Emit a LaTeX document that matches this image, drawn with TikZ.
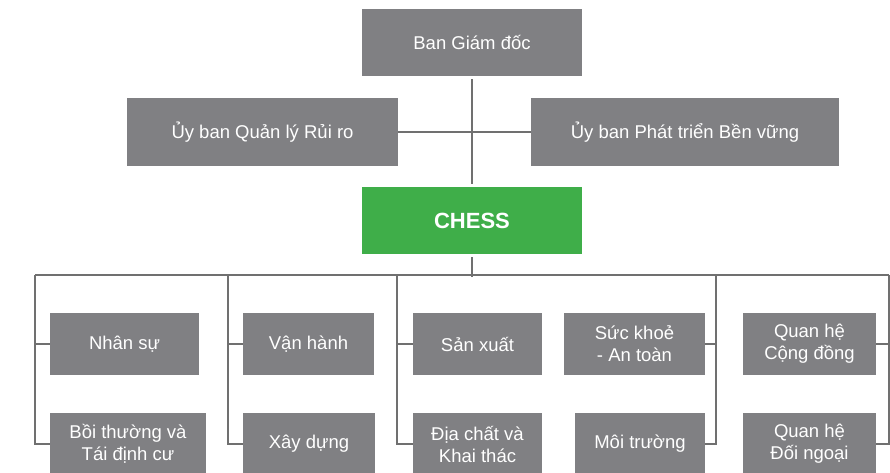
\documentclass[tikz,border=0pt]{standalone}
\usepackage{fontspec}
\setmainfont{Liberation Sans}
\usetikzlibrary{calc}

\definecolor{boxgray}{HTML}{808083}
\definecolor{chessgreen}{HTML}{3FAE49}
\definecolor{linegray}{HTML}{707070}

\begin{document}
\begin{tikzpicture}[
    x=1pt, y=-1pt,
    all/.style={inner sep=0pt, align=center, text=white,
        font=\fontsize{18.5}{22}\selectfont},
    box/.style={all, rectangle, fill=boxgray, minimum height=62pt},
    board/.style={all, rectangle, fill=boxgray, minimum height=67pt},
    core/.style={all, rectangle, fill=chessgreen, minimum width=220pt,
        minimum height=67pt, font=\fontsize{22}{26}\selectfont\bfseries},
    link/.style={draw=linegray, line width=1.6pt},
]
    \clip (0,0) rectangle (890,473);
    \useasboundingbox (0,0) rectangle (890,473);

    % board level
    \node [board, minimum width=220pt] (gd) at (472,42.5) {Ban Giám đốc};
    \node [board, minimum width=271pt] (rr) at (262.5,132) {Ủy ban Quản lý Rủi ro};
    \node [board, minimum width=308pt] (ptbv) at (685,132) {Ủy ban Phát triển Bền vững};
    \node [core] (chess) at (472,220.5) {CHESS};

    \draw [link, shorten <=3pt, shorten >=3pt] (gd) -- (chess);
    \draw [link] (rr) -- (ptbv);

    % departments
    \node [box, minimum width=149pt] (ns) at (124.5,344) {Nhân sự};
    \node [box, minimum width=156pt] (bt) at (128,444) {Bồi thường và\\Tái định cư};
    \node [box, minimum width=131pt] (vh) at (308.5,344) {Vận hành};
    \node [box, minimum width=132pt] (xd) at (309,444) {Xây dựng};
    \node [box, minimum width=129pt] (sx) at (477.5,344) {Sản xuất};
    \node [box, minimum width=129pt] (dc) at (477.5,444) {Địa chất và\\Khai thác};
    \node [box, minimum width=141pt] (sk) at (634.5,344) {Sức khoẻ\\- An toàn};
    \node [box, minimum width=130pt] (mt) at (640,444) {Môi trường};
    \node [box, minimum width=133pt] (qhcd) at (809.5,344) {Quan hệ\\Cộng đồng};
    \node [box, minimum width=133pt] (qhdn) at (809.5,444) {Quan hệ\\Đối ngoại};

    % bus
    \coordinate (c1) at (35,275);
    \coordinate (c2) at (228,275);
    \coordinate (c3) at (397,275);
    \coordinate (c4) at (716,275);
    \coordinate (c5) at (889,275);

    \draw [link, shorten <=3pt] (chess) -- ($(chess |- c1)+(0,2)$);
    \draw [link] (c1) -- (c5);

    \draw [link] (c1) |- (bt.west);
    \draw [link] (ns.west) -- (ns.west -| c1);
    \draw [link] (c2) |- (xd.west);
    \draw [link] (vh.west) -- (vh.west -| c2);
    \draw [link] (c3) |- (dc.west);
    \draw [link] (sx.west) -- (sx.west -| c3);
    \draw [link] (c4) |- (mt.east);
    \draw [link] (sk.east) -- (sk.east -| c4);
    \draw [link] (c5) |- (qhdn.east);
    \draw [link] (qhcd.east) -- (qhcd.east -| c5);
\end{tikzpicture}
\end{document}
